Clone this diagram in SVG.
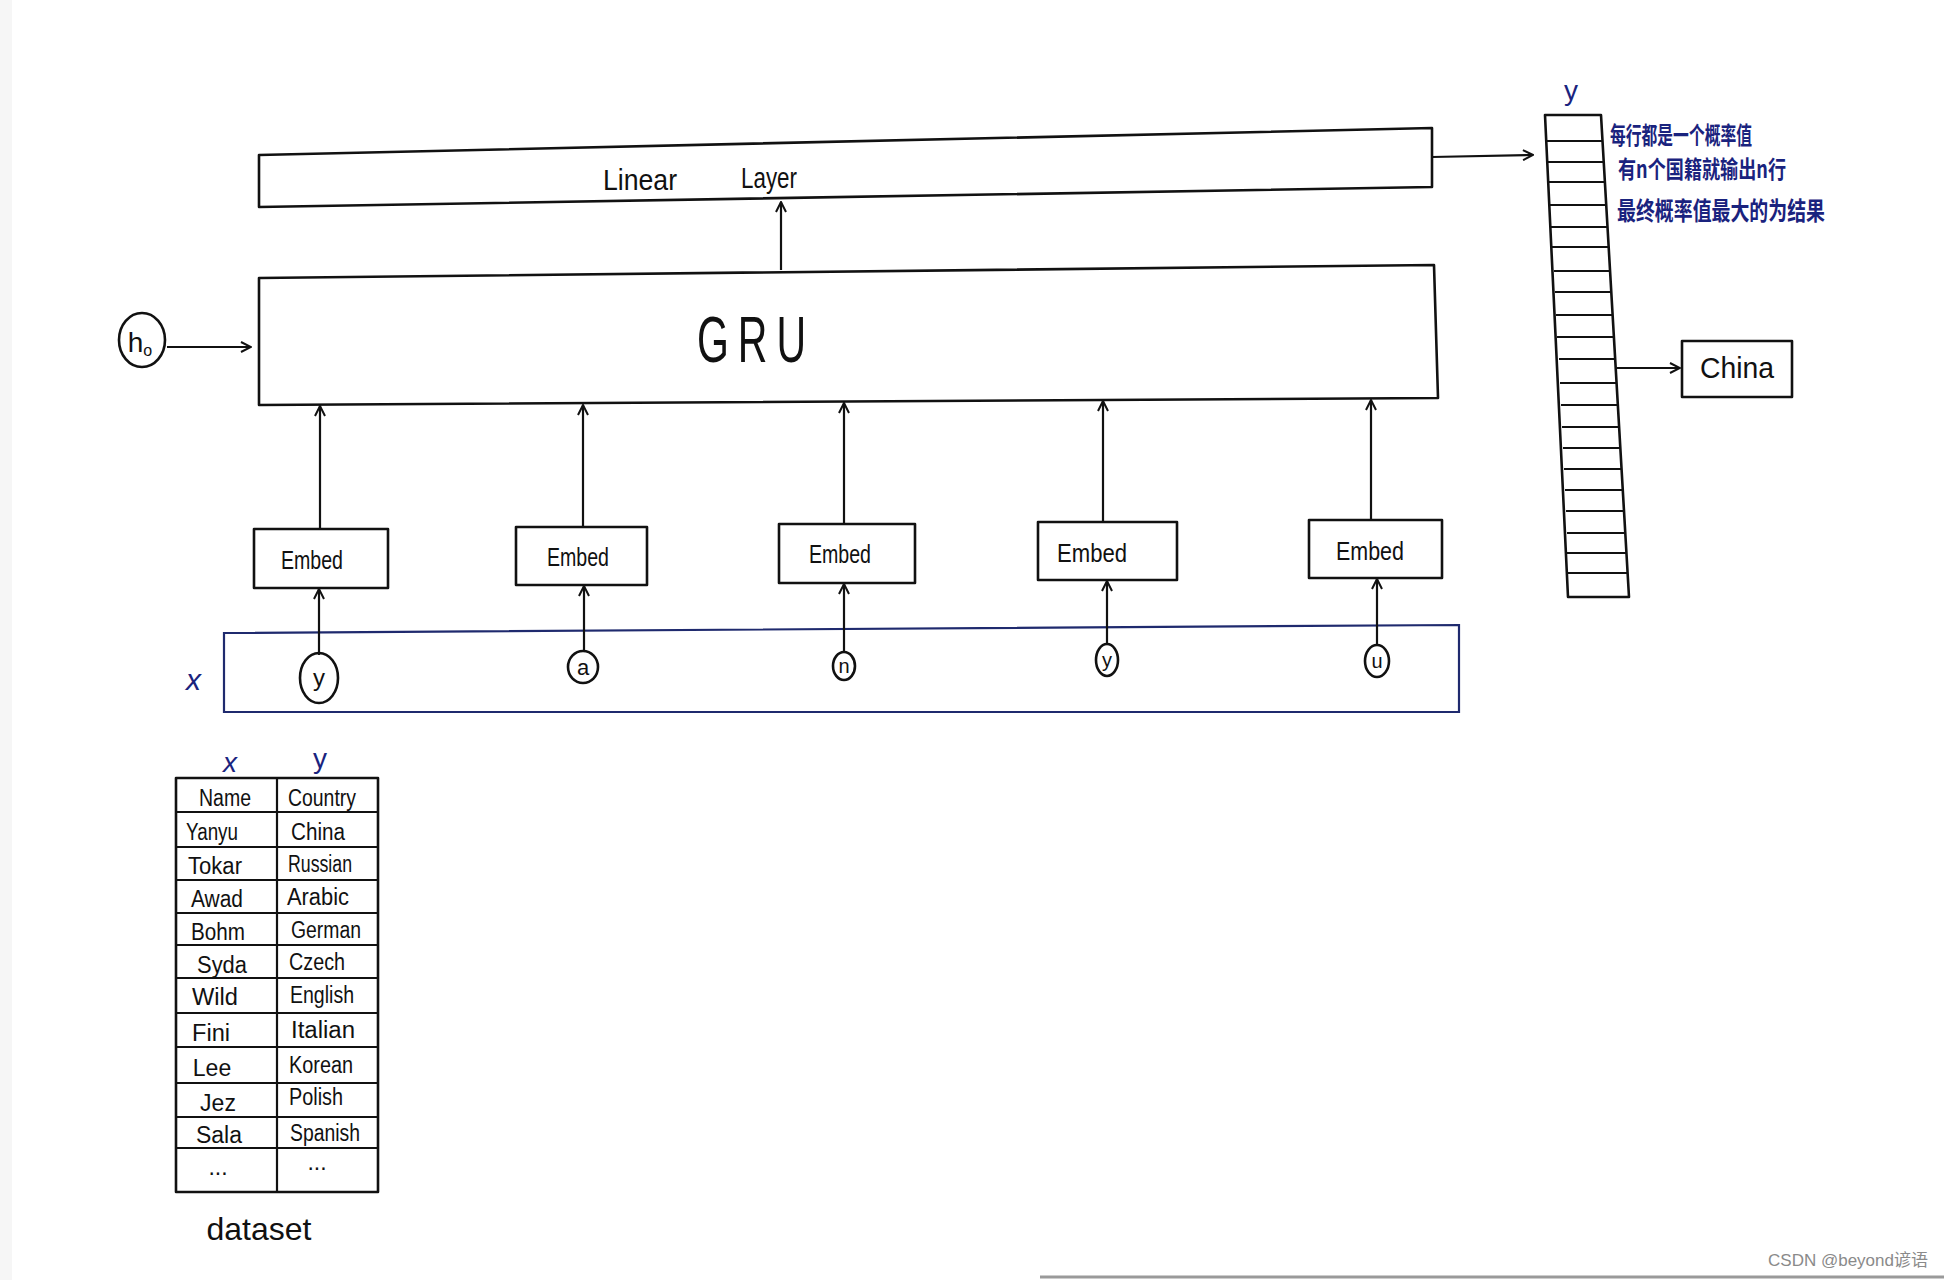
<svg xmlns="http://www.w3.org/2000/svg" width="1944" height="1280" viewBox="0 0 1944 1280">
<style>
.box{fill:none;stroke:#111;stroke-width:2.6;stroke-linejoin:round}
.blue{fill:none;stroke:#1f2a6e;stroke-width:2.2}
.ln{fill:none;stroke:#111;stroke-width:2.2}
.t{font-family:"Liberation Sans","DejaVu Sans",sans-serif;fill:#111;text-anchor:middle}
.bt{font-family:"Liberation Sans","Noto Sans CJK SC",sans-serif;fill:#1a237e}
.cn{font-family:"Noto Sans CJK SC",sans-serif;fill:#1a237e;font-weight:bold}
</style>
<defs>
<marker id="ah" viewBox="0 0 12 12" refX="11" refY="6" markerWidth="12" markerHeight="12" markerUnits="userSpaceOnUse" orient="auto">
<path d="M1,1 L11,6 L1,11" fill="none" stroke="#111" stroke-width="2"/>
</marker>
</defs>
<rect width="1944" height="1280" fill="#ffffff"/>
<rect x="0" y="0" width="12" height="1280" fill="#f6f6f6"/>
<line x1="1040" y1="1277" x2="1944" y2="1277" stroke="#9a9a9a" stroke-width="3"/>

<g id="linear">
<polygon class="box" points="259,155 1432,128 1432,187 259,207"/>
<text class="t" x="640" y="190" font-size="30" textLength="74" lengthAdjust="spacingAndGlyphs">Linear</text>
<text class="t" x="769" y="188" font-size="30" textLength="56" lengthAdjust="spacingAndGlyphs">Layer</text>
</g>

<g id="gru">
<polygon class="box" points="259,278 1434,265 1438,398 259,405"/>
<text class="t" x="756" y="362" font-size="64" letter-spacing="14" textLength="118" lengthAdjust="spacingAndGlyphs">GRU</text>
</g>

<g id="h0">
<ellipse class="box" cx="142" cy="340" rx="23" ry="27"/>
<text class="t" x="140" y="352" font-size="28">h<tspan font-size="16" dy="4">o</tspan></text>
</g>

<g id="embed1"><rect class="box" x="254" y="529" width="134" height="59"/><text class="t" x="312" y="569" font-size="26" textLength="62" lengthAdjust="spacingAndGlyphs">Embed</text></g>
<g id="embed2"><rect class="box" x="516" y="527" width="131" height="58"/><text class="t" x="578" y="566" font-size="26" textLength="62" lengthAdjust="spacingAndGlyphs">Embed</text></g>
<g id="embed3"><rect class="box" x="779" y="524" width="136" height="59"/><text class="t" x="840" y="563" font-size="26" textLength="62" lengthAdjust="spacingAndGlyphs">Embed</text></g>
<g id="embed4"><rect class="box" x="1038" y="522" width="139" height="58"/><text class="t" x="1092" y="562" font-size="26" textLength="70" lengthAdjust="spacingAndGlyphs">Embed</text></g>
<g id="embed5"><rect class="box" x="1309" y="520" width="133" height="58"/><text class="t" x="1370" y="560" font-size="26" textLength="68" lengthAdjust="spacingAndGlyphs">Embed</text></g>

<g id="input-x">
<polygon class="blue" points="224,633 1459,625 1459,712 224,712"/>
<text class="bt" x="186" y="690" font-size="30" font-style="italic">x</text>
</g>

<g id="char-y1"><ellipse class="box" cx="319" cy="678" rx="19" ry="25"/><text class="t" x="319" y="686" font-size="24">y</text></g>
<g id="char-a"><ellipse class="box" cx="583" cy="667" rx="15" ry="16"/><text class="t" x="583" y="675" font-size="22">a</text></g>
<g id="char-n"><ellipse class="box" cx="844" cy="666" rx="11" ry="14"/><text class="t" x="844" y="673" font-size="20">n</text></g>
<g id="char-y2"><ellipse class="box" cx="1107" cy="660" rx="11" ry="16"/><text class="t" x="1107" y="667" font-size="20">y</text></g>
<g id="char-u"><ellipse class="box" cx="1377" cy="661" rx="12" ry="16"/><text class="t" x="1377" y="668" font-size="20">u</text></g>

<g id="output-y">
<text class="bt" x="1571" y="100" font-size="28" text-anchor="middle">y</text>
<polygon class="box" points="1545,115 1601,115 1629,597 1568,597"/>
<g class="ln">
<line x1="1547" y1="141" x2="1603" y2="141"/>
<line x1="1548" y1="162" x2="1604" y2="162"/>
<line x1="1549" y1="182" x2="1606" y2="182"/>
<line x1="1550" y1="205" x2="1607" y2="205"/>
<line x1="1551" y1="227" x2="1608" y2="227"/>
<line x1="1552" y1="247" x2="1609" y2="247"/>
<line x1="1554" y1="271" x2="1611" y2="271"/>
<line x1="1555" y1="292" x2="1612" y2="292"/>
<line x1="1556" y1="315" x2="1613" y2="315"/>
<line x1="1557" y1="337" x2="1614" y2="337"/>
<line x1="1559" y1="359" x2="1616" y2="359"/>
<line x1="1560" y1="383" x2="1617" y2="383"/>
<line x1="1561" y1="405" x2="1618" y2="405"/>
<line x1="1562" y1="427" x2="1620" y2="427"/>
<line x1="1563" y1="448" x2="1621" y2="448"/>
<line x1="1564" y1="469" x2="1622" y2="469"/>
<line x1="1565" y1="490" x2="1623" y2="490"/>
<line x1="1566" y1="511" x2="1624" y2="511"/>
<line x1="1567" y1="533" x2="1625" y2="533"/>
<line x1="1567" y1="553" x2="1627" y2="553"/>
<line x1="1568" y1="573" x2="1628" y2="573"/>
</g>
<text class="cn" x="1610" y="144" font-size="24" textLength="142" lengthAdjust="spacingAndGlyphs">每行都是一个概率值</text>
<text class="cn" x="1618" y="178" font-size="24" textLength="168" lengthAdjust="spacingAndGlyphs">有n个国籍就输出n行</text>
<text class="cn" x="1617" y="220" font-size="25" textLength="208" lengthAdjust="spacingAndGlyphs">最终概率值最大的为结果</text>
</g>

<g id="china">
<rect class="box" x="1682" y="341" width="110" height="56"/>
<text class="t" x="1737" y="378" font-size="30" textLength="74" lengthAdjust="spacingAndGlyphs">China</text>
</g>

<g id="dataset">
<text class="bt" x="230" y="772" font-size="28" text-anchor="middle" font-style="italic">x</text>
<text class="bt" x="320" y="768" font-size="28" text-anchor="middle">y</text>
<rect class="box" x="176" y="778" width="202" height="414"/>
<line class="ln" x1="277" y1="778" x2="277" y2="1192"/>
<g class="ln">
<line x1="176" y1="812" x2="378" y2="812"/>
<line x1="176" y1="847" x2="378" y2="847"/>
<line x1="176" y1="880" x2="378" y2="880"/>
<line x1="176" y1="913" x2="378" y2="913"/>
<line x1="176" y1="945" x2="378" y2="945"/>
<line x1="176" y1="978" x2="378" y2="978"/>
<line x1="176" y1="1013" x2="378" y2="1013"/>
<line x1="176" y1="1047" x2="378" y2="1047"/>
<line x1="176" y1="1083" x2="378" y2="1083"/>
<line x1="176" y1="1117" x2="378" y2="1117"/>
<line x1="176" y1="1148" x2="378" y2="1148"/>
</g>
<g font-size="23">
<text class="t" x="225" y="806" textLength="52" lengthAdjust="spacingAndGlyphs">Name</text><text class="t" x="322" y="806" textLength="68" lengthAdjust="spacingAndGlyphs">Country</text>
<text class="t" x="212" y="840" textLength="52" lengthAdjust="spacingAndGlyphs">Yanyu</text><text class="t" x="318" y="840" textLength="54" lengthAdjust="spacingAndGlyphs">China</text>
<text class="t" x="215" y="874" textLength="54" lengthAdjust="spacingAndGlyphs">Tokar</text><text class="t" x="320" y="872" textLength="64" lengthAdjust="spacingAndGlyphs">Russian</text>
<text class="t" x="217" y="907" textLength="52" lengthAdjust="spacingAndGlyphs">Awad</text><text class="t" x="318" y="905" textLength="62" lengthAdjust="spacingAndGlyphs">Arabic</text>
<text class="t" x="218" y="940" textLength="54" lengthAdjust="spacingAndGlyphs">Bohm</text><text class="t" x="326" y="938" textLength="70" lengthAdjust="spacingAndGlyphs">German</text>
<text class="t" x="222" y="973" textLength="50" lengthAdjust="spacingAndGlyphs">Syda</text><text class="t" x="317" y="970" textLength="56" lengthAdjust="spacingAndGlyphs">Czech</text>
<text class="t" x="215" y="1005" textLength="46" lengthAdjust="spacingAndGlyphs">Wild</text><text class="t" x="322" y="1003" textLength="64" lengthAdjust="spacingAndGlyphs">English</text>
<text class="t" x="211" y="1041" textLength="38" lengthAdjust="spacingAndGlyphs">Fini</text><text class="t" x="323" y="1038" textLength="64" lengthAdjust="spacingAndGlyphs">Italian</text>
<text class="t" x="212" y="1076">Lee</text><text class="t" x="321" y="1073" textLength="64" lengthAdjust="spacingAndGlyphs">Korean</text>
<text class="t" x="218" y="1111">Jez</text><text class="t" x="316" y="1105" textLength="54" lengthAdjust="spacingAndGlyphs">Polish</text>
<text class="t" x="219" y="1143" textLength="46" lengthAdjust="spacingAndGlyphs">Sala</text><text class="t" x="325" y="1141" textLength="70" lengthAdjust="spacingAndGlyphs">Spanish</text>
<text class="t" x="218" y="1175">...</text><text class="t" x="317" y="1170">...</text>
</g>
<text class="t" x="259" y="1240" font-size="32">dataset</text>
</g>

<g id="connectors" class="ln">
<line x1="781" y1="270" x2="781" y2="202" marker-end="url(#ah)"/>
<line x1="1432" y1="157" x2="1533" y2="155" marker-end="url(#ah)"/>
<line x1="167" y1="347" x2="251" y2="347" marker-end="url(#ah)"/>
<line x1="320" y1="529" x2="320" y2="406" marker-end="url(#ah)"/>
<line x1="583" y1="527" x2="583" y2="405" marker-end="url(#ah)"/>
<line x1="844" y1="524" x2="844" y2="403" marker-end="url(#ah)"/>
<line x1="1103" y1="522" x2="1103" y2="401" marker-end="url(#ah)"/>
<line x1="1371" y1="520" x2="1371" y2="400" marker-end="url(#ah)"/>
<line x1="319" y1="655" x2="319" y2="589" marker-end="url(#ah)"/>
<line x1="584" y1="651" x2="584" y2="586" marker-end="url(#ah)"/>
<line x1="844" y1="652" x2="844" y2="584" marker-end="url(#ah)"/>
<line x1="1107" y1="644" x2="1107" y2="581" marker-end="url(#ah)"/>
<line x1="1377" y1="645" x2="1377" y2="579" marker-end="url(#ah)"/>
<line x1="1617" y1="368" x2="1680" y2="368" marker-end="url(#ah)"/>
</g>

<text x="1928" y="1266" font-family="Liberation Sans,Noto Sans CJK SC,sans-serif" font-size="17" fill="#8a8a8a" text-anchor="end">CSDN @beyond谚语</text>
</svg>
